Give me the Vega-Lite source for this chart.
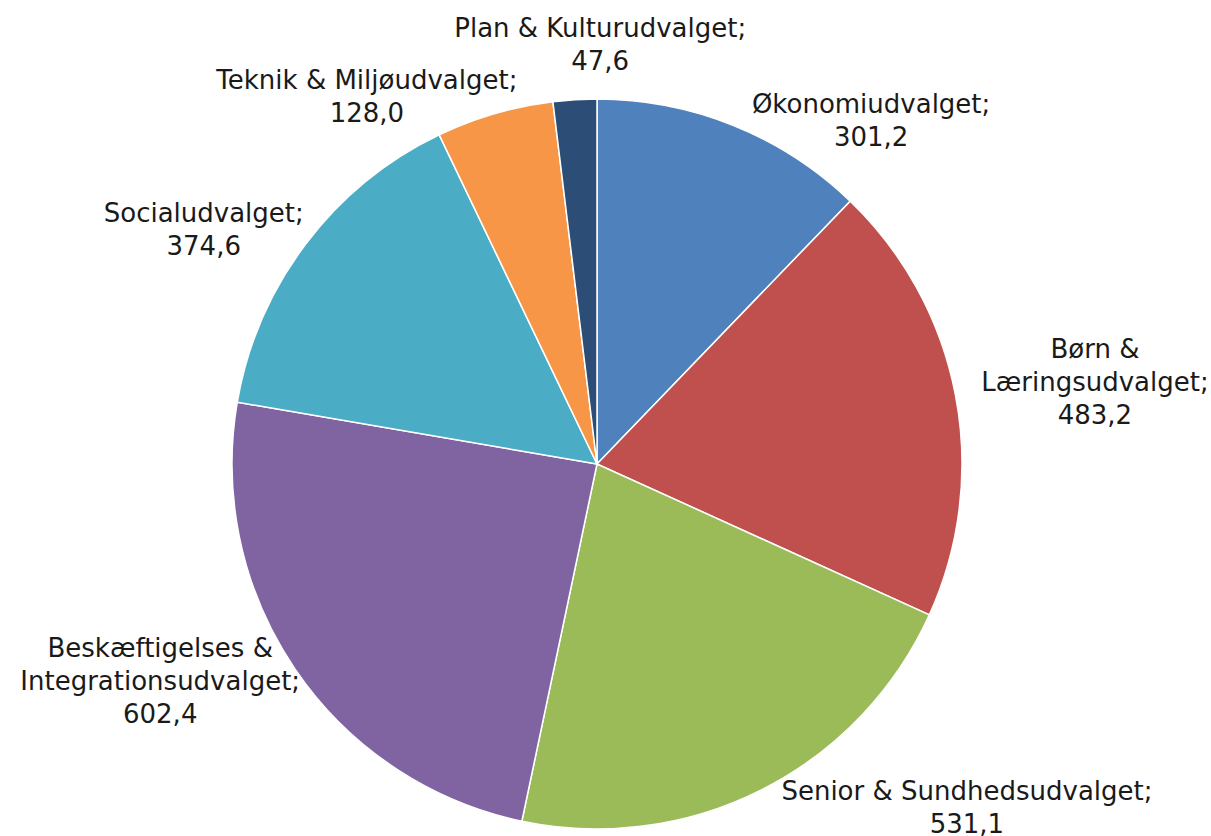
{
  "$schema": "https://vega.github.io/schema/vega-lite/v6.json",
  "width": 1194,
  "height": 744,
  "autosize": "none",
  "padding": {"left": 0, "right": 17, "top": 92, "bottom": 0},
  "background": "white",
  "config": {
    "view": {"stroke": null},
    "text": {"font": "DejaVu Sans", "fontSize": 26, "fill": "#1a1a1a", "align": "center", "baseline": "alphabetic", "lineHeight": 33, "lineBreak": "\n"}
  },
  "data": {
    "values": [
      {"navn": "Økonomiudvalget", "value": 301.2},
      {"navn": "Børn &\nLæringsudvalget", "value": 483.2},
      {"navn": "Senior & Sundhedsudvalget", "value": 531.1},
      {"navn": "Beskæftigelses &\nIntegrationsudvalget", "value": 602.4},
      {"navn": "Socialudvalget", "value": 374.6},
      {"navn": "Teknik & Miljøudvalget", "value": 128.0},
      {"navn": "Plan & Kulturudvalget", "value": 47.6}
    ]
  },
  "transform": [
    {"window": [{"op": "row_number", "as": "nr"}]},
    {"joinaggregate": [{"op": "sum", "field": "value", "as": "total"}]},
    {"stack": "value", "groupby": [], "sort": [{"field": "nr", "order": "ascending"}], "as": ["v0", "v1"]},
    {"calculate": "datum.v0 / datum.total", "as": "f0"},
    {"calculate": "datum.v1 / datum.total", "as": "f1"},
    {"calculate": "(datum.v0 + datum.v1) / 2 / datum.total", "as": "fm"},
    {"calculate": "datum.navn + ';\\n' + replace(format(datum.value, '.1f'), '.', ',')", "as": "label"}
  ],
  "layer": [
    {
      "mark": {"type": "arc", "outerRadius": 365, "stroke": "white", "strokeWidth": 1.5},
      "encoding": {
        "theta": {"field": "f0", "type": "quantitative", "scale": {"domain": [0, 1]}},
        "theta2": {"field": "f1"},
        "color": {
          "field": "nr", "type": "ordinal", "legend": null,
          "scale": {"domain": [1, 2, 3, 4, 5, 6, 7], "range": ["#4F81BD", "#C0504D", "#9BBB59", "#8064A2", "#4BACC6", "#F79646", "#2C4D75"]}
        }
      }
    },
    {
      "transform": [{"filter": "datum.nr == 1"}],
      "mark": {"type": "text", "radius": 428, "dx": 114, "dy": 46},
      "encoding": {"theta": {"field": "fm", "type": "quantitative"}, "text": {"field": "label"}}
    },
    {
      "transform": [{"filter": "datum.nr == 2"}],
      "mark": {"type": "text", "radius": 509, "dx": -2, "dy": -10},
      "encoding": {"theta": {"field": "fm", "type": "quantitative"}, "text": {"field": "label"}}
    },
    {
      "transform": [{"filter": "datum.nr == 3"}],
      "mark": {"type": "text", "radius": 467, "dx": 159, "dy": -81},
      "encoding": {"theta": {"field": "fm", "type": "quantitative"}, "text": {"field": "label"}}
    },
    {
      "transform": [{"filter": "datum.nr == 4"}],
      "mark": {"type": "text", "radius": 470, "dx": -48, "dy": -71},
      "encoding": {"theta": {"field": "fm", "type": "quantitative"}, "text": {"field": "label"}}
    },
    {
      "transform": [{"filter": "datum.nr == 5"}],
      "mark": {"type": "text", "radius": 459, "dx": -27, "dy": 35},
      "encoding": {"theta": {"field": "fm", "type": "quantitative"}, "text": {"field": "label"}}
    },
    {
      "transform": [{"filter": "datum.nr == 6"}],
      "mark": {"type": "text", "radius": 425, "dx": -111, "dy": 33},
      "encoding": {"theta": {"field": "fm", "type": "quantitative"}, "text": {"field": "label"}}
    },
    {
      "transform": [{"filter": "datum.nr == 7"}],
      "mark": {"type": "text", "radius": 426, "dx": 29, "dy": -2},
      "encoding": {"theta": {"field": "fm", "type": "quantitative"}, "text": {"field": "label"}}
    }
  ]
}
